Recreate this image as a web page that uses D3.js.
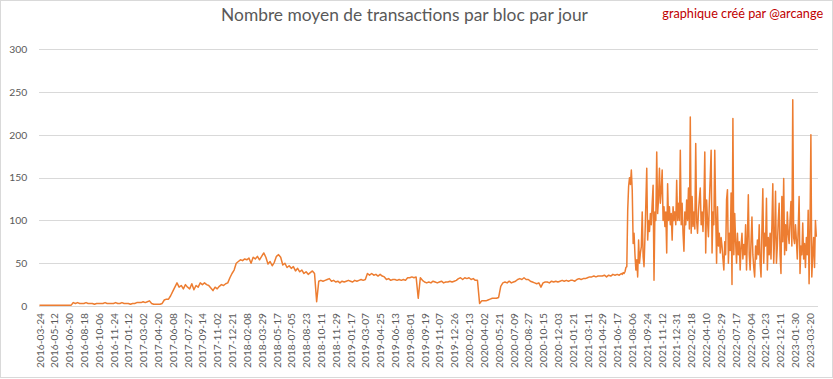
<!DOCTYPE html>
<html><head><meta charset="utf-8">
<script src="https://cdn.jsdelivr.net/npm/d3@7"></script>
<style>html,body{margin:0;padding:0;background:#fff} svg{display:block}</style>
</head><body><svg id="c" width="833" height="379"></svg>
<script>
const title = "Nombre moyen de transactions par bloc par jour";
const credit = "graphique créé par @arcange";
const xLabels = ["2016-03-24","2016-05-12","2016-06-30","2016-08-18","2016-10-06","2016-11-24","2017-01-12","2017-03-02","2017-04-20","2017-06-08","2017-07-27","2017-09-14","2017-11-02","2017-12-21","2018-02-08","2018-03-29","2018-05-17","2018-07-05","2018-08-23","2018-10-11","2018-11-29","2019-01-17","2019-03-07","2019-04-25","2019-06-13","2019-08-01","2019-09-19","2019-11-07","2019-12-26","2020-02-13","2020-04-02","2020-05-21","2020-07-09","2020-08-27","2020-10-15","2020-12-03","2021-01-21","2021-03-11","2021-04-29","2021-06-17","2021-08-06","2021-09-24","2021-11-12","2021-12-31","2022-02-18","2022-04-10","2022-05-29","2022-07-17","2022-09-04","2022-10-23","2022-12-11","2023-01-30","2023-03-20"];
const yTicks = [0,50,100,150,200,250,300];
// calm period: one value every 7 categories
const weeklyValues = [
1,1,1,1,1,1,1, 1,1,1,1,1,1,1, 1,1,4,3,4,3,3, 3,4,3,3,3,2,3, 3,3,3,4,3,3,3,
3,4,3,3,4,3,3, 3,2,3,3,4,4,4, 5,4,5,6,3,2,2, 2,2,3,7,8,8,12, 17,22,27,22,24,20,25,
22,20,26,19,24,22,27, 25,27,25,24,21,18,22, 20,23,25,24,26,27,33, 38,42,50,52,54,53,55,
54,56,50,57,55,58,54, 58,62,57,49,52,47,51, 58,60,57,48,50,45,47, 44,46,41,44,40,42,38,
40,37,39,41,38,5,29, 30,29,30,31,32,29,30, 28,29,27,29,28,29,30, 29,28,30,29,30,31,30,
31,38,36,38,36,37,35, 37,35,34,31,32,30,31, 31,30,31,30,31,30,33, 33,34,33,34,9,33,30,
28,27,28,27,29,28,27, 28,29,27,28,28,29,28, 29,30,32,33,31,33,32, 33,31,32,30,30,3,6,
6,6,7,8,9,9,9, 10,23,27,28,27,29,27, 28,29,31,32,31,33,31, 31,29,28,27,26,27,22,
27,28,28,27,29,28,29, 28,29,30,29,30,29,30, 30,29,31,32,31,32,32, 33,34,34,35,34,35,35,
35,36,34,36,35,37,36, 37,36
];
// volatile period (from 2021-07): one value every 3 categories
const recentValues = [
38,37,39,38,40,45,46,112,140,150, 142,159,135,73,85,60,42,54,34,77,
50,62,69,110,58,46,80,120,161,77, 100,87,108,95,120,141,30,110,100,180,
108,125,161,120,135,159,100,116,93,110, 62,143,100,116,95,108,77,116,100,110,
95,147,100,120,100,182,95,120,85,64, 110,95,124,100,138,90,221,85,128,93,
110,90,190,100,85,110,125,138,95,110, 87,120,180,62,124,100,81,120,150,182,
62,110,95,182,110,50,116,70,85,62, 80,70,55,42,75,60,124,136,50,85,
65,132,25,219,60,108,75,50,85,60, 75,42,70,85,55,72,60,95,42,80,
130,60,42,75,104,60,45,34,70,55, 77,60,95,50,34,90,137,50,85,70,
126,42,80,60,85,55,95,143,50,80, 134,50,70,100,120,60,38,128,75,149,
60,95,65,110,85,73,100,122,70,241, 80,73,95,77,55,90,128,38,70,60,
97,55,73,45,80,60,112,26,90,200, 34,60,80,45,100,81
];
const categoriesPerLabel = 49;
const weeklyStep = 7;
const recentStart = 1925, recentStep = 3;
const totalCategories = 2575;

const W = 833, H = 379;
const plot = {left: 39.3, right: 817.7, top: 49.3, bottom: 306};
const font = "Lato, 'Liberation Sans', sans-serif";
const grey = "#595959";

const svg = d3.select("#c");
svg.append("rect").attr("x",0.5).attr("y",0.5).attr("width",W-1).attr("height",H-2)
  .attr("fill","#fff").attr("stroke","#d9d9d9");

const x = d3.scaleLinear().domain([0,totalCategories]).range([plot.left, plot.right]);
const y = d3.scaleLinear().domain([0,300]).range([plot.bottom, plot.top]);

function fit(sel, target){
  const w = sel.node().getComputedTextLength();
  const fs = parseFloat(sel.style("font-size"));
  return fs * target / w;
}

// y axis + gridlines
const yAxis = svg.append("g").attr("transform",`translate(${plot.left},0)`)
  .call(d3.axisLeft(y).tickValues(yTicks).tickSize(-(plot.right-plot.left)).tickPadding(12));
yAxis.select(".domain").remove();
yAxis.selectAll("line").attr("stroke","#d9d9d9").attr("shape-rendering","crispEdges");
yAxis.selectAll("text").attr("fill",grey).style("font-family",font).style("font-size","11px");
const yfs = fit(yAxis.selectAll("text").filter(d=>d===300), 18);
yAxis.selectAll("text").style("font-size", yfs+"px");

// x axis
const tickCats = xLabels.map((d,i)=>i*categoriesPerLabel);
const xAxis = svg.append("g").attr("transform",`translate(0,${plot.bottom})`)
  .call(d3.axisBottom(x).tickValues(tickCats.map(c=>c+0.5)).tickSize(0)
    .tickFormat((d,i)=>xLabels[i]));
xAxis.select(".domain").attr("stroke","#d9d9d9").attr("shape-rendering","crispEdges");
const xt = xAxis.selectAll("text").attr("fill",grey).style("font-family",font).style("font-size","11px")
  .attr("transform","rotate(-90)").attr("x",-7).attr("y",0).attr("dy","0.35em").style("text-anchor","end");
const xfs = fit(xAxis.select("text"), 55);
xt.style("font-size", xfs+"px");

// line
const points = weeklyValues.map((v,k)=>({c:k*weeklyStep, v}))
  .concat(recentValues.map((v,r)=>({c:recentStart + r*recentStep, v})));
const line = d3.line().x(d=>x(d.c+0.5)).y(d=>y(d.v));
svg.append("path").datum(points).attr("d",line).attr("fill","none")
  .attr("stroke","#ed7d31").attr("stroke-width",1.5).attr("stroke-linejoin","round");

// title
const t = svg.append("text").attr("x",404.5).attr("y",21).attr("text-anchor","middle")
  .attr("fill",grey).style("font-family",font).style("font-size","16px").text(title);
t.style("font-size", fit(t,367)+"px");

const c = svg.append("text").attr("x",662.3).attr("y",18.3).attr("text-anchor","start")
  .attr("fill","#c00000").style("font-family",font).style("font-size","12px").text(credit);
c.style("font-size", fit(c,161)+"px");
</script></body></html>
